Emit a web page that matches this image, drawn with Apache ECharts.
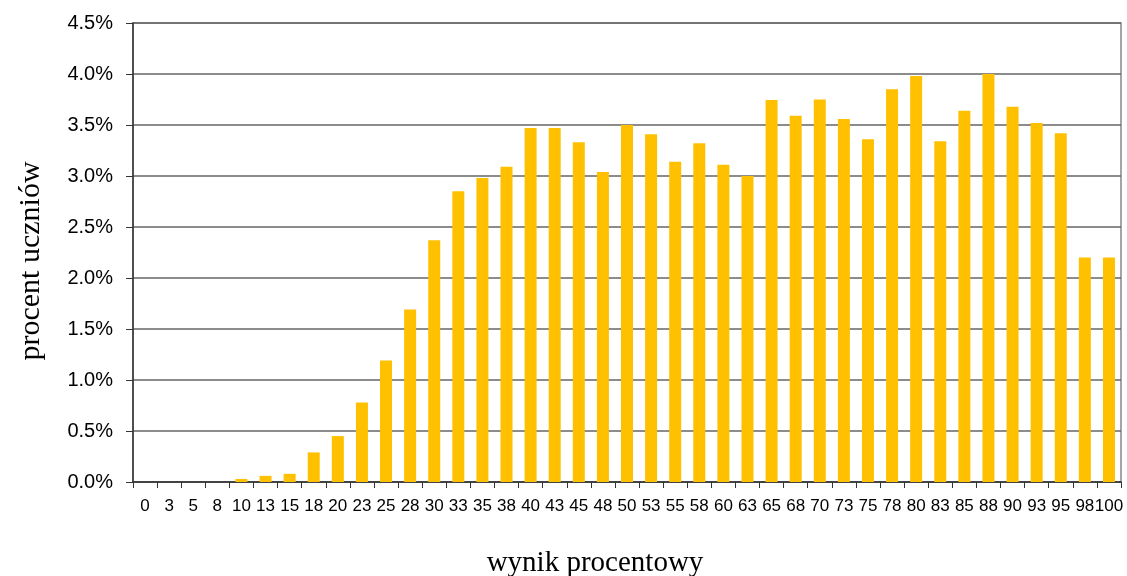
<!DOCTYPE html>
<html>
<head>
<meta charset="utf-8">
<script src="https://cdn.jsdelivr.net/npm/echarts@6/dist/echarts.min.js"></script>
<style>html,body{margin:0;padding:0;background:#fff}#c{width:1127px;height:576px}</style>
</head>
<body>
<div id="c"></div>
<script>
const categories = ['0','3','5','8','10','13','15','18','20','23','25','28','30','33','35','38','40','43','45','48','50','53','55','58','60','63','65','68','70','73','75','78','80','83','85','88','90','93','95','98','100'];
const percentValues = [0,0,0,0,0.03,0.06,0.08,0.29,0.45,0.78,1.19,1.69,2.37,2.85,2.98,3.09,3.47,3.47,3.33,3.04,3.50,3.41,3.14,3.32,3.11,3.00,3.745,3.59,3.75,3.56,3.36,3.85,3.98,3.34,3.64,4.00,3.68,3.52,3.42,2.20,2.20];
const yTicks = [0,0.5,1,1.5,2,2.5,3,3.5,4,4.5];
const xAxisTitle = 'wynik procentowy';
const yAxisTitle = 'procent uczniów';

const chart = echarts.init(document.getElementById('c'), null, {renderer:'canvas'});
chart.setOption({
  animation:false,
  backgroundColor:'#fff',
  grid:{left:133,right:6,top:23,bottom:94,containLabel:false,outerBoundsMode:'none',show:true,borderColor:'#888',borderWidth:1.5,backgroundColor:'transparent'},
  xAxis:{
    type:'category',
    data:categories,
    name:xAxisTitle,
    nameLocation:'middle',
    nameGap:67,
    nameTextStyle:{fontFamily:'Liberation Serif',fontSize:29,color:'#000',padding:[0,64,0,0]},
    axisLine:{lineStyle:{color:'#333',width:1.5}},
    axisTick:{show:true,alignWithLabel:false,length:6,lineStyle:{color:'#333'}},
    axisLabel:{interval:0,fontFamily:'Liberation Sans',fontSize:17,color:'#000',margin:16}
  },
  yAxis:{
    type:'value',
    min:0,max:4.5,interval:0.5,
    name:yAxisTitle,
    nameLocation:'middle',
    nameGap:87,
    nameTextStyle:{fontFamily:'Liberation Serif',fontSize:30,color:'#000',padding:[0,17,0,0]},
    axisLine:{show:true,lineStyle:{color:'#333',width:1.5}},
    axisTick:{show:true,length:7,lineStyle:{color:'#333'}},
    axisLabel:{fontFamily:'Liberation Sans',fontSize:20,color:'#000',margin:20,
      formatter:v=>yTicks.indexOf(v)>=0? v.toFixed(1)+'%':''},
    splitLine:{show:true,lineStyle:{color:'#666',width:1.5}}
  },
  series:[{
    type:'bar',
    data:percentValues,
    barWidth:12,
    itemStyle:{color:'#FFC000'}
  }]
});
</script>
</body>
</html>
